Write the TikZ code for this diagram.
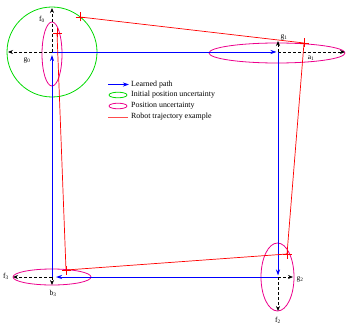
\documentclass[tikz,border=0pt]{standalone}
\usepackage{fontspec}
\setmainfont{Liberation Serif}
\usetikzlibrary{arrows.meta}
\begin{document}
\begin{tikzpicture}[x=1pt,y=-1pt,
  bpath/.style={blue,line width=0.9pt,-{Stealth[length=6pt,width=4pt]}},
  dasharr/.style={black,line width=0.8pt,dash pattern=on 3pt off 2pt,-{Stealth[length=5pt,width=4pt]}},
  unc/.style={magenta,line width=0.8pt},
  initunc/.style={green!85!black,line width=0.8pt},
  traj/.style={red,line width=0.7pt},
  lbl/.style={font=\fontsize{7.5}{8}\selectfont,inner sep=0pt},
  legtxt/.style={font=\fontsize{7.9}{9}\selectfont,anchor=west,inner sep=0pt}]
\useasboundingbox (0,0) rectangle (347,326);
% corners
\coordinate (c0) at (52,52);
\coordinate (c1) at (278,52);
\coordinate (c2) at (278,277);
\coordinate (c3) at (52,277);
% uncertainty
\draw[initunc] (c0) circle (45);
\draw[unc] (52,54) ellipse (10 and 32);
\draw[unc] (277,53) ellipse (68 and 10);
\draw[unc] (277.5,277) ellipse (16.5 and 34);
\draw[unc] (52,277) ellipse (39 and 8);
% dashed axes
\coordinate (f0) at (52,8);
\coordinate (g0) at (8,52);
\coordinate (g1) at (278,41);
\coordinate (a1) at (345,52);
\coordinate (g2) at (293,277);
\coordinate (f2) at (278,311);
\coordinate (f3) at (13,277);
\coordinate (b3) at (52,285);
\draw[dasharr] (c0) -- (f0);
\draw[dasharr] (c0) -- (g0);
\draw[dasharr] (c1) -- (g1);
\draw[dasharr] (c1) -- (a1);
\draw[dasharr] (c2) -- (g2);
\draw[dasharr] (c2) -- (f2);
\draw[dasharr] (c3) -- (f3);
\draw[dasharr] (c3) -- (b3);
% learned path
\draw[bpath,shorten >=1.5pt] (c0) -- (c1);
\draw[bpath,shorten >=1.5pt] (c1) -- (c2);
\draw[bpath,shorten >=4pt] (c2) -- (c3);
\draw[bpath,shorten >=3pt] (c3) -- (c0);
% labels
\node[lbl] at (42,19) {f\textsubscript{0}};
\node[lbl] at (27,60) {g\textsubscript{0}};
\node[lbl] at (284,37) {g\textsubscript{1}};
\node[lbl] at (311,58) {a\textsubscript{1}};
\node[lbl] at (300,279) {g\textsubscript{2}};
\node[lbl] at (278,320) {f\textsubscript{2}};
\node[lbl] at (6,276) {f\textsubscript{3}};
\node[lbl] at (53,293) {b\textsubscript{3}};
% trajectory
\coordinate (r0) at (80,17);
\coordinate (r1) at (304,43);
\coordinate (r2) at (287,254);
\coordinate (r3) at (66,270);
\coordinate (r4) at (57,33);
\draw[traj] (r0) -- (r1) -- (r2) -- (r3) -- (r4);
\foreach \p in {r0,r1,r2,r3,r4}{
  \draw[traj] ([xshift=-4.5pt]\p) -- ([xshift=4.5pt]\p);
  \draw[traj] ([yshift=-4.5pt]\p) -- ([yshift=4.5pt]\p);
}
% legend
\coordinate (l1a) at (108,84.5); \coordinate (l1b) at (129,84.5);
\draw[bpath] (l1a) -- (l1b);
\node[legtxt] at (131,84.5) {Learned path};
\draw[initunc] (118,95) ellipse (9 and 2.8);
\node[legtxt] at (131,95) {Initial position uncertainty};
\draw[unc] (118,106) ellipse (9 and 2.8);
\node[legtxt] at (131,106) {Position uncertainty};
\coordinate (l4a) at (108,117); \coordinate (l4b) at (128,117);
\draw[traj,red!70] (l4a) -- (l4b);
\node[legtxt] at (131,117) {Robot trajectory example};
\end{tikzpicture}
\end{document}
